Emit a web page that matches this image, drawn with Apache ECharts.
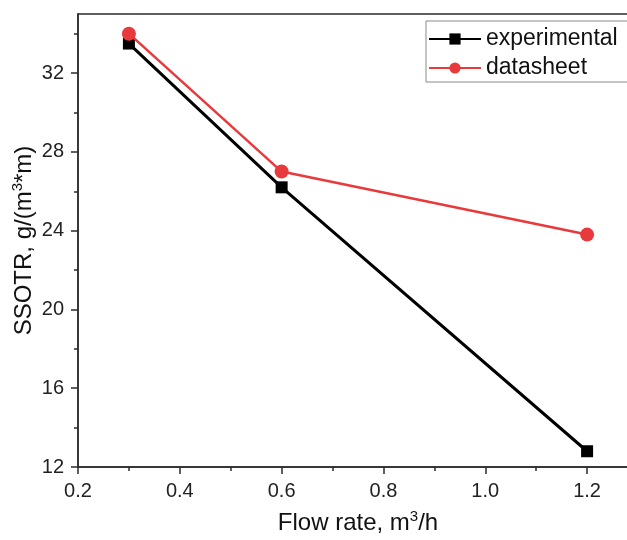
<!DOCTYPE html>
<html>
<head>
<meta charset="utf-8">
<script src="https://cdn.jsdelivr.net/npm/echarts@6/dist/echarts.min.js"></script>
<style>
  html, body { margin: 0; padding: 0; background: #fff; }
  #chart { width: 627px; height: 540px; }
</style>
</head>
<body>
<div id="chart"></div>
<script>
// Flow rate (m3/h) and oxygen transfer rate per series
const flowRate = [0.3, 0.6, 1.2];
const experimental = [33.5, 26.2, 12.8];
const datasheet = [34.0, 27.0, 23.8];

// axis tick positions
const xMajorTicks = [0.2, 0.4, 0.6, 0.8, 1.0, 1.2];
const xMinorTicks = [0.3, 0.5, 0.7, 0.9, 1.1];
const yMajorTicks = [12, 16, 20, 24, 28, 32];
const yMinorTicks = [14, 18, 22, 26, 30, 34];

const FONT = '"Liberation Sans", Arial, sans-serif';
const AXIS_COLOR = '#2b2b2b';
const RED = '#e8393c';

const chart = echarts.init(document.getElementById('chart'), null, { renderer: 'canvas' });

const pairs = (xs, ys) => xs.map((x, i) => [x, ys[i]]);

const titleRich = {
  a: { fontFamily: FONT, fontSize: 24, color: '#111', lineHeight: 28 },
  s: { fontFamily: FONT, fontSize: 15, color: '#111', verticalAlign: 'top', lineHeight: 28 }
};
const tickLine = { color: AXIS_COLOR, width: 1.5 };

chart.setOption({
  animation: false,
  backgroundColor: '#ffffff',
  textStyle: { fontFamily: FONT },
  grid: {
    left: 78, right: -11, top: 14, bottom: 73,
    show: true, borderColor: AXIS_COLOR, borderWidth: 1.5,
    containLabel: false,
    outerBoundsMode: 'none'
  },
  legend: {
    orient: 'vertical',
    left: 426, top: 21,
    padding: [6, 12, 2, 2],
    itemGap: 5,
    itemWidth: 52, itemHeight: 14,
    borderColor: '#8a8a8a', borderWidth: 1,
    textStyle: { fontFamily: FONT, fontSize: 23, color: '#111', lineHeight: 24 },
    data: ['experimental', 'datasheet']
  },
  xAxis: [
    {
      type: 'value',
      min: 0.2, max: 1.3,
      name: '{a|Flow rate, m}{s|3}{a|/h}',
      nameLocation: 'middle',
      nameGap: 42,
      nameTextStyle: { rich: titleRich },
      axisLine: { lineStyle: tickLine },
      axisTick: { show: true, inside: false, length: 7, customValues: xMajorTicks, lineStyle: tickLine },
      axisLabel: {
        margin: 14, fontFamily: FONT, fontSize: 20, color: '#222',
        customValues: xMajorTicks,
        formatter: v => v.toFixed(1)
      },
      splitLine: { show: false }
    },
    {
      // minor ticks only
      type: 'value',
      min: 0.2, max: 1.3,
      position: 'bottom',
      axisLine: { show: false },
      axisTick: { show: true, inside: false, length: 4, customValues: xMinorTicks, lineStyle: tickLine },
      axisLabel: { show: false },
      splitLine: { show: false }
    }
  ],
  yAxis: [
    {
      type: 'value',
      min: 12, max: 35,
      name: '{a|SSOTR, g/(m}{s|3}{a|*m)}',
      nameLocation: 'middle',
      nameGap: 40,
      nameMoveOverlap: false,
      nameTextStyle: { rich: titleRich },
      axisLine: { show: true, lineStyle: tickLine },
      axisTick: { show: true, inside: false, length: 7, customValues: yMajorTicks, lineStyle: tickLine },
      axisLabel: { margin: 14, fontFamily: FONT, fontSize: 20, color: '#222', customValues: yMajorTicks },
      splitLine: { show: false }
    },
    {
      // minor ticks only
      type: 'value',
      min: 12, max: 35,
      position: 'left',
      axisLine: { show: false },
      axisTick: { show: true, inside: false, length: 4, customValues: yMinorTicks, lineStyle: tickLine },
      axisLabel: { show: false },
      splitLine: { show: false }
    }
  ],
  series: [
    {
      name: 'experimental',
      type: 'line',
      xAxisIndex: 0, yAxisIndex: 0,
      data: pairs(flowRate, experimental),
      symbol: 'rect',
      symbolSize: 12,
      itemStyle: { color: '#000000' },
      lineStyle: { color: '#000000', width: 3 },
      z: 2
    },
    {
      name: 'datasheet',
      type: 'line',
      xAxisIndex: 0, yAxisIndex: 0,
      data: pairs(flowRate, datasheet),
      symbol: 'circle',
      symbolSize: 14,
      itemStyle: { color: RED },
      lineStyle: { color: RED, width: 2.5 },
      z: 3
    }
  ]
});
</script>
</body>
</html>
